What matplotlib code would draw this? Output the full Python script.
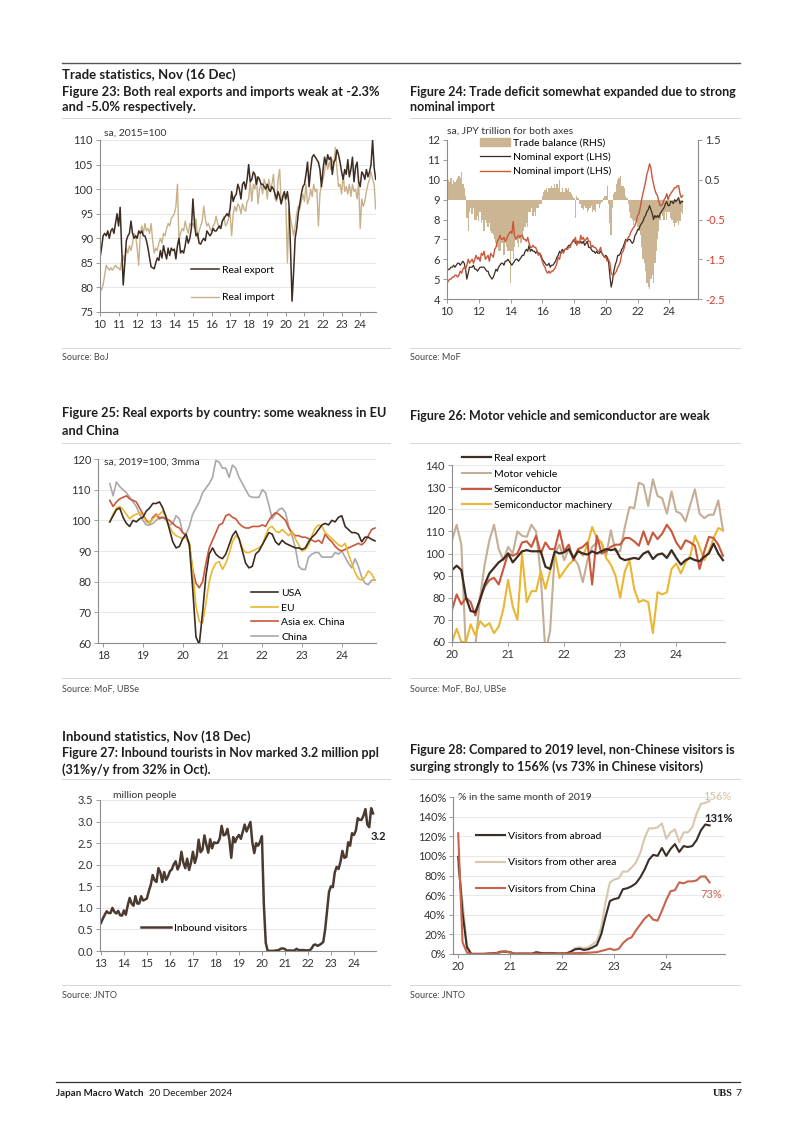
# -*- coding: utf-8 -*-
import numpy as np
import matplotlib.pyplot as plt
from matplotlib.lines import Line2D
from matplotlib.patches import Patch

plt.rcParams['font.family'] = ['Lato', 'DejaVu Sans']

# Figure 23: real exports / imports, sa 2015=100, Jan 2010 - Nov 2024
real_export = [
    86, 88, 90.5, 91, 90.5, 91.5, 90, 91.5, 92, 91, 93, 95,
    92.5, 96.3, 88, 80.5, 85, 89.5, 90.5, 91, 93.5, 91, 90, 90.5,
    90, 91.5, 91, 91.5, 90.5, 90.5, 89.5, 88, 86, 84.2, 84, 83.8,
    85, 86, 85.5, 87.5, 86, 88.5, 87, 85.8, 88, 86.5, 88, 87.5,
    87.8, 85.8, 88.5, 90, 87, 87.5, 87, 88.5, 90.5, 89, 90, 92,
    98, 93, 90.5, 91, 89, 88.8, 89.5, 90, 89.5, 91.5, 91, 90.5,
    91, 92, 91.5, 91.5, 92, 92.5, 92, 93.5, 94, 94.5, 95, 94.5,
    96, 99.5, 97.5, 98.5, 99, 101, 100, 98, 101, 101.5, 100, 102,
    105, 101.5, 102, 103.5, 103, 101, 102.5, 102, 101, 101, 100.5, 100,
    101, 100, 99.5, 100.5, 100, 99, 98, 99.5, 98.5, 97, 98.5, 99.5,
    98, 99.5, 97, 88, 77.2, 83, 90, 92, 95, 97, 99, 100.5,
    101, 103, 105.5, 100.5, 104, 106.5, 107, 106.5, 106, 105.5, 104, 100.5,
    104, 106.5, 105, 107, 106, 106.5, 103, 105.5, 106, 108, 107, 105.5,
    103.5, 102, 104, 103, 106, 102.5, 104, 106.5, 101.5, 104.5, 105.5, 101.5,
    100.5, 103.5, 103, 102, 104, 102.5, 103.5, 105, 110, 104.4, 102,
]
real_import = [
    80, 79.5, 80.5, 82.5, 84.5, 84, 83.5, 84, 83.5, 84, 84.5, 84,
    84, 83.5, 85.5, 86.5, 85, 88, 87, 88.5, 87.5, 89, 91, 90.5,
    88, 84.5, 91, 92.5, 91, 93, 91.5, 92, 91, 93, 89.5, 87,
    88, 87.5, 89, 90, 89, 91, 90.5, 92, 93, 92.5, 94, 94.5,
    95, 96.5, 101, 89.5, 91, 92, 91.5, 93.5, 92, 91, 93, 92.5,
    93, 92, 94, 90, 91.5, 92.5, 93.5, 96.5, 94, 92.5, 93, 92,
    91.5, 92.5, 93, 94.5, 93, 92, 92.5, 93.5, 94.5, 92.5, 93, 94,
    95, 90.5, 95, 96.5, 95.5, 97, 96.5, 95, 97, 96, 95.5, 97.5,
    98, 101.5, 97.5, 101, 100, 102.5, 97, 100, 101, 99, 102, 101,
    98, 102, 100, 101, 103, 98, 97.5, 102, 104, 97, 98, 99,
    97, 85, 96, 94, 92.5, 90.5, 92.5, 95, 96.5, 96, 97.5, 99,
    97.5, 101, 97, 98, 100, 98.5, 101, 99.5, 100, 92.5, 99, 101,
    102, 103.5, 106, 104, 105.5, 104, 106, 105, 108.5, 104, 100.5, 101,
    99, 103, 99.5, 100.5, 99, 101, 98.5, 101, 99.5, 100, 98, 101.5,
    92, 98, 96.5, 97.5, 99.5, 101, 102, 103.5, 102, 101, 96,
]
years23 = list(range(10, 25))

# Figure 24: nominal trade, JPY trillion, Jan 2010 - Nov 2024
nominal_export = [
    5.4, 5.5, 5.5, 5.6, 5.6, 5.7, 5.6, 5.7, 5.8, 5.8, 5.7, 5.8,
    5.9, 5.8, 5.5, 5.0, 5.3, 5.6, 5.6, 5.6, 5.7, 5.5, 5.5, 5.4,
    5.5, 5.6, 5.6, 5.6, 5.6, 5.5, 5.4, 5.4, 5.2, 5.1, 5.0, 5.1,
    5.3, 5.5, 5.4, 5.6, 5.7, 5.8, 5.8, 5.7, 5.9, 5.9, 6.0, 5.9,
    5.8, 5.7, 5.8, 5.9, 6.0, 6.0, 5.9, 6.0, 6.1, 6.2, 6.2, 6.4,
    6.5, 6.4, 6.7, 6.4, 6.5, 6.4, 6.4, 6.3, 6.4, 6.3, 6.3, 6.2,
    6.0, 5.9, 5.8, 5.7, 5.7, 5.8, 5.6, 5.7, 5.7, 5.8, 5.9, 6.1,
    6.2, 6.4, 6.3, 6.5, 6.4, 6.5, 6.5, 6.6, 6.7, 6.7, 6.8, 6.9,
    7.0, 6.8, 6.9, 6.9, 6.8, 6.9, 6.8, 6.9, 6.7, 6.8, 6.9, 6.6,
    6.6, 6.5, 6.4, 6.4, 6.3, 6.4, 6.3, 6.3, 6.4, 6.3, 6.2, 6.1,
    6.2, 6.1, 5.9, 5.2, 4.6, 4.9, 5.4, 5.7, 5.9, 6.2, 6.2, 6.3,
    6.5, 6.6, 6.8, 7.0, 6.9, 7.0, 7.0, 6.9, 6.8, 6.9, 7.2, 7.3,
    7.5, 7.5, 7.7, 7.8, 7.9, 8.1, 8.2, 8.4, 8.5, 8.7, 8.5, 8.3,
    8.0, 8.2, 8.1, 8.2, 8.1, 8.3, 8.4, 8.5, 8.6, 8.8, 8.9, 8.7,
    8.7, 8.9, 8.9, 8.8, 9.0, 8.9, 9.0, 9.1, 8.8, 8.9, 8.9,
]
nominal_import = [
    4.8, 4.9, 5.0, 5.0, 5.1, 5.1, 5.2, 5.2, 5.1, 5.2, 5.4, 5.3,
    5.5, 5.6, 5.5, 5.7, 6.0, 5.8, 5.9, 6.0, 5.8, 6.0, 6.2, 6.0,
    6.1, 5.9, 6.3, 6.2, 6.4, 6.0, 6.1, 6.2, 5.9, 6.3, 6.2, 6.1,
    6.5, 6.6, 6.9, 7.0, 7.2, 7.0, 7.0, 7.1, 6.9, 7.0, 7.2, 7.3,
    7.4, 7.3, 7.9, 7.2, 7.0, 7.1, 7.2, 7.1, 7.2, 7.2, 7.0, 7.0,
    6.9, 7.1, 6.8, 6.6, 6.6, 6.7, 6.6, 6.6, 6.4, 6.2, 6.3, 6.1,
    5.9, 5.7, 5.6, 5.4, 5.3, 5.4, 5.3, 5.4, 5.4, 5.5, 5.6, 5.8,
    6.1, 6.0, 6.3, 6.4, 6.3, 6.5, 6.5, 6.5, 6.6, 6.6, 6.8, 6.9,
    6.9, 7.1, 6.7, 6.9, 6.8, 7.2, 7.0, 7.1, 6.9, 7.0, 7.1, 6.9,
    6.9, 6.6, 6.7, 6.6, 6.6, 6.5, 6.4, 6.4, 6.6, 6.3, 6.2, 6.1,
    6.1, 5.9, 6.0, 5.8, 5.3, 5.2, 5.2, 5.3, 5.4, 5.6, 5.7, 5.9,
    6.3, 6.4, 6.6, 6.9, 7.0, 7.1, 7.2, 7.4, 7.5, 7.6, 7.7, 7.9,
    8.2, 8.3, 8.6, 9.0, 9.3, 9.6, 9.9, 10.3, 10.5, 10.8, 10.6, 10.1,
    9.8, 9.5, 9.3, 9.2, 8.9, 8.7, 8.7, 8.8, 9.0, 9.1, 9.3, 9.0,
    9.2, 9.3, 9.4, 9.5, 9.6, 9.6, 9.7, 9.7, 9.3, 9.1, 9.2,
]
trade_balance = [
    0.45, 0.5, 0.45, 0.55, 0.4, 0.5, 0.45, 0.5, 0.55, 0.6, 0.55, 0.7,
    0.4, 0.3, 0.1, -0.45, -0.8, -0.3, -0.2, -0.35, -0.2, -0.5, -0.5, -0.4,
    -0.55, -0.3, -0.6, -0.5, -0.8, -0.5, -0.6, -0.7, -0.6, -0.8, -0.85, -0.9,
    -1.0, -1.1, -1.2, -1.3, -1.3, -1.1, -1.1, -1.4, -1.1, -1.2, -1.3, -1.3,
    -2.1, -1.3, -1.5, -1.2, -1.0, -1.1, -1.2, -1.0, -1.1, -1.0, -0.8, -0.7,
    -0.6, -0.7, -0.3, -0.3, -0.2, -0.4, -0.3, -0.4, -0.2, -0.2, -0.1, -0.1,
    0.1, 0.2, 0.25, 0.3, 0.2, 0.3, 0.3, 0.35, 0.3, 0.4, 0.3, 0.4,
    0.3, 0.5, 0.2, 0.3, 0.2, 0.2, 0.3, 0.25, 0.3, 0.2, 0.15, 0.1,
    0.05, -0.45, 0.1, 0.05, -0.1, -0.1, -0.2, -0.25, -0.15, -0.2, -0.3, -0.25,
    -0.2, -0.15, -0.3, -0.25, -0.3, -0.1, -0.1, -0.2, -0.1, -0.05, 0.05, 0.1,
    0.1, 0.35, -0.1, -0.6, -0.9, -0.2, 0.15, 0.2, 0.4, 0.5, 0.55, 0.6,
    0.35, 0.35, 0.3, 0.1, 0.05, -0.1, -0.3, -0.45, -0.5, -0.65, -0.55, -0.6,
    -0.7, -0.8, -0.9, -1.2, -1.5, -1.6, -1.8, -2.1, -2.2, -2.25, -2.0, -1.9,
    -2.1, -1.6, -1.3, -1.0, -0.8, -0.5, -0.35, -0.4, -0.5, -0.3, -0.5, -0.3,
    -0.3, -0.45, -0.5, -0.6, -0.7, -0.6, -0.55, -0.65, -0.55, -0.3, -0.35,
]
years24 = list(range(10, 25, 2))
rhs_ticks = [1.5, 0.5, -0.5, -1.5, -2.5]

# Figure 25: real exports by destination, sa 2019=100, 3mma, Mar 2018 - Nov 2024
exp_usa = [
    99.5, 101.5, 103.5, 104, 101, 99, 98, 100, 99.5, 100.5,
    101, 103, 104, 105.5, 105.5, 106, 104, 101, 97, 93, 91, 91.5,
    94, 95.5, 92, 78, 62, 59.5, 70, 82, 89, 91, 89, 88,
    87.5, 89, 92, 95, 96.5, 94, 90, 86, 84.5, 85, 89, 90,
    92, 94, 96, 95.5, 93, 92, 93.5, 92.5, 92, 91.5, 91, 91,
    90.5, 91, 93, 94.5, 95.5, 97, 98.5, 99, 98.5, 100, 99.5, 101,
    101.5, 98, 97, 96, 96, 95.5, 93, 94.5, 94.5, 93.8, 93.3,
]
exp_eu = [
    99.5, 102, 104, 104.5, 103.5, 102, 100.5, 101.5, 102, 102.5,
    101.5, 99.5, 99, 100.5, 101.5, 102, 103, 101, 98, 96, 95, 94.5,
    94, 94.5, 93, 84, 72, 67, 66.5, 73, 80, 84, 86, 86.5,
    84, 86, 89, 93, 95, 94, 91, 89.5, 89.5, 90, 90.5, 91,
    92, 95, 97.5, 98, 96.5, 96, 97, 96, 95, 96.5, 94, 92,
    90, 90.5, 92, 95, 97.5, 98.5, 98, 96, 95, 94, 93, 92,
    91.5, 92.5, 89, 86, 83, 81, 80.5, 81.5, 83.5, 82.5, 80.5,
]
exp_asia = [
    106.5, 104.5, 106, 107, 107.5, 108, 107, 106.5, 106, 104,
    102, 100, 99, 101, 102, 100.5, 101, 100.5, 100, 99, 98, 97.5,
    96, 95, 92, 84, 79.5, 78, 80, 86, 91, 93.5, 96, 98.5,
    99, 101.5, 102, 101, 100.5, 99, 98, 97.5, 97.5, 98, 98, 98,
    98.5, 98, 100, 101.5, 102.5, 102, 101, 100, 97.5, 96, 95, 95,
    94.5, 94.5, 94, 93.5, 93, 93.5, 92.5, 95.5, 94, 93, 91.5, 90.5,
    90, 90.5, 91, 91.5, 92, 92.5, 92, 93, 95, 97, 97.5,
]
exp_china = [
    112, 108, 112.5, 111, 110, 109, 107.5, 106, 104.5, 102,
    100, 98.5, 98.5, 99, 100, 101, 101, 100, 98.5, 99, 101.5, 100.5,
    96, 95.5, 98, 102, 104, 106, 109, 110.5, 112, 114, 119.5, 119,
    117, 117, 114, 118, 117, 114, 112, 110, 108, 107.5, 107.5, 107.5,
    110, 109, 105, 100.5, 102, 103.5, 104, 102.5, 98, 95, 91, 85,
    84, 84, 88, 89, 89.5, 89.5, 88, 88, 88, 88, 89.5, 89,
    90, 88, 86, 84.5, 87.5, 85, 81.5, 79.5, 79, 80.5, 80.5,
]
years25 = list(range(18, 25))

# Figure 26: exports by product, Jan 2020 - Nov 2024
f26_real = [
    92.5, 94.5, 92.5, 80, 74, 73.5, 79, 86, 91, 93.5, 96, 97.5,
    100, 96, 98.5, 101, 101.5, 101, 101, 101, 94, 93, 101, 100,
    100.5, 102, 98, 101, 100, 99.5, 101, 100, 101, 102, 101.5, 102,
    98, 97, 97.5, 98, 97.5, 100, 101, 97.5, 99.5, 100, 98, 101.5,
    98, 95, 97, 98, 97, 96.5, 98.5, 100, 104.5, 100, 97,
]
f26_motor = [
    106, 113, 104, 55, 45, 58, 80, 95, 106, 113, 102, 97,
    103, 100, 110, 108, 107.5, 113, 110, 90, 55, 65, 100, 104,
    97, 102, 98, 95, 87, 97, 103, 105, 105, 99, 110.5, 101,
    101, 112, 121, 120.5, 132, 131, 121.5, 133.5, 126, 125, 118, 128,
    119, 118, 114.5, 122, 129, 118, 116, 117.5, 117.5, 124, 110.5,
]
f26_semi = [
    74.5, 81.5, 77, 80, 78, 72, 80, 85, 88, 89, 86, 93,
    100, 99, 100, 105, 105.5, 103, 108, 100, 105, 102, 102, 110.5,
    101, 104, 97, 102, 103, 105, 86, 108, 100, 101, 103, 104,
    104, 107, 107, 105.5, 103.5, 110, 104, 109.5, 106.5, 109, 113, 110,
    105, 102, 106, 105, 103.5, 93, 101, 107.5, 107, 104, 99,
]
f26_semimach = [
    60, 66, 60, 60, 68, 63, 69.5, 67, 68.5, 64, 67, 75,
    88, 76, 70, 100, 78, 83, 83, 92, 84, 92, 100, 89,
    92, 95, 97, 102, 99, 104, 112, 107, 105, 98, 95, 90,
    80, 92, 97, 84, 78, 79, 78, 64, 82.5, 81.5, 82.5, 93,
    95.5, 91, 96, 99, 108, 103, 97, 101, 107, 111.5, 110.5,
]
years26 = list(range(20, 25))

# Figure 27: inbound visitors, million people, Jan 2013 - Nov 2024
inbound = [
    0.65, 0.75, 0.84, 0.92, 0.88, 0.88, 1.0, 0.91, 0.87, 0.93, 0.83, 0.82,
    0.94, 0.84, 1.06, 1.23, 1.10, 1.05, 1.27, 1.10, 1.10, 1.27, 1.17, 1.19,
    1.22, 1.39, 1.53, 1.76, 1.64, 1.60, 1.92, 1.82, 1.60, 1.83, 1.65, 1.73,
    1.85, 1.89, 2.01, 2.08, 1.89, 1.99, 2.30, 2.05, 1.92, 2.14, 1.88, 2.05,
    2.30, 2.04, 2.20, 2.58, 2.29, 2.35, 2.68, 2.47, 2.28, 2.59, 2.38, 2.52,
    2.50, 2.51, 2.61, 2.90, 2.68, 2.70, 2.83, 2.58, 2.16, 2.64, 2.52, 2.63,
    2.69, 2.60, 2.76, 2.93, 2.77, 2.88, 2.99, 2.52, 2.27, 2.50, 2.44, 2.53,
    2.66, 1.09, 0.19, 0.003, 0.002, 0.003, 0.004, 0.009, 0.014, 0.028, 0.057, 0.059,
    0.046, 0.007, 0.012, 0.011, 0.010, 0.009, 0.051, 0.025, 0.018, 0.022, 0.021, 0.012,
    0.017, 0.017, 0.066, 0.14, 0.15, 0.12, 0.14, 0.17, 0.21, 0.50, 0.93, 1.37,
    1.50, 1.48, 1.82, 1.95, 1.90, 2.07, 2.32, 2.16, 2.18, 2.52, 2.44, 2.73,
    2.69, 2.79, 3.08, 3.04, 3.04, 3.14, 3.29, 2.93, 2.87, 3.31, 3.19,
]
years27 = list(range(13, 25))

# Figure 28: visitors as % of the same month of 2019, Jan 2020 - Nov 2024
vis_abroad = [
    99, 42, 7, 0.1, 0.1, 0.1, 0.1, 0.4, 0.6, 1.1, 2.3, 2.3,
    1.7, 0.3, 0.4, 0.4, 0.4, 0.3, 1.7, 1.0, 0.8, 0.9, 0.9, 0.5,
    0.6, 0.6, 2.4, 4.8, 5.3, 4.2, 4.8, 6.7, 9.2, 20, 38, 54,
    56, 57, 66, 67, 69, 72, 78, 86, 96, 101, 100, 108,
    100, 107, 112, 104, 110, 109, 110, 116, 126, 132, 131,
]
vis_other = [
    90, 53, 9, 0.1, 0.1, 0.1, 0.2, 0.6, 0.9, 1.4, 3.0, 3.0,
    2.0, 0.4, 0.5, 0.5, 0.5, 0.4, 2.4, 1.3, 1.0, 1.1, 1.1, 0.6,
    0.7, 0.7, 3.0, 6.2, 7.0, 5.5, 6.8, 10, 13, 27, 53, 73,
    76, 77, 84, 84, 88, 93, 103, 118, 128, 128, 129, 133,
    117.5, 124, 127, 114, 124, 124, 129, 143, 153, 154, 156,
]
vis_china = [
    123, 12, 1.5, 0.1, 0.1, 0.1, 0.1, 0.2, 0.3, 0.9, 2.0, 2.5,
    1.5, 0.2, 0.3, 0.3, 0.3, 0.2, 0.5, 0.3, 0.4, 0.5, 0.5, 0.4,
    0.5, 0.4, 0.7, 0.9, 1.0, 1.2, 1.3, 1.6, 1.9, 3.1, 4.2, 5.5,
    4.1, 5.0, 11, 15, 17, 24, 30, 36, 40, 35, 34, 44,
    55, 64, 65, 73, 72, 74, 74, 75, 79, 79, 73,
]
years28 = list(range(20, 25))

# colours
dark = '#3d2c22'
tan = '#c8b08a'
red = '#c9573c'
yellow = '#e9b731'
grey = '#a9a9a9'
axis_grey = '#8c8c8c'
text_col = '#1e1e1e'

W, H = 802, 1134
fig = plt.figure(figsize=(W / 100, H / 100), dpi=100)


def axes_px(l, t, r, b):
    return fig.add_axes([l / W, 1 - b / H, (r - l) / W, (b - t) / H])


def text_px(x, y, s, **kw):
    kw.setdefault('color', text_col)
    return fig.text(x / W, 1 - y / H, s, va='center', **kw)


def hline_px(x0, x1, y, color='#d6d6d6', lw=0.7):
    fig.add_artist(Line2D([x0 / W, x1 / W], [1 - y / H, 1 - y / H],
                          color=color, lw=lw, transform=fig.transFigure))


def style(ax, xlim, ylim, xticks, yticks, ylabels=None, grid=True):
    ax.set_xlim(xlim)
    ax.set_ylim(ylim)
    ax.set_xticks(xticks)
    ax.set_xticklabels([str(v) for v in xticks])
    ax.set_yticks(yticks)
    if ylabels is not None:
        ax.set_yticklabels(ylabels)
    for s in ['top', 'right']:
        ax.spines[s].set_visible(False)
    for s in ['left', 'bottom']:
        ax.spines[s].set_color(axis_grey)
        ax.spines[s].set_linewidth(0.8)
    if grid:
        ax.grid(axis='y', color='#e4e4e4', lw=0.6)
    ax.set_axisbelow(True)
    ax.tick_params(labelsize=8, labelcolor='#333333', color=axis_grey,
                   length=3, width=0.6, pad=2)


def legend(ax, handles, labels, anchor, spacing, loc='upper left', hl=2.7):
    ax.legend(handles, labels, loc=loc, bbox_to_anchor=anchor, frameon=False,
              fontsize=7.5, labelspacing=spacing, handlelength=hl,
              handletextpad=0.3, borderpad=0, borderaxespad=0)


# ---------------- Figure 23
ax = axes_px(100, 140, 376, 312)
t = 10 + np.arange(len(real_export)) / 12
l_imp, = ax.plot(t, real_import, color=tan, lw=1.0)
l_exp, = ax.plot(t, real_export, color=dark, lw=1.1)
style(ax, (10, 24.85), (75, 110), years23, range(75, 111, 5))
legend(ax, [l_exp, l_imp], ['Real export', 'Real import'], (0.33, 0.27), 1.75)
ax.text(0.015, 1.04, 'sa, 2015=100', transform=ax.transAxes, fontsize=7.5,
        va='center', color='#333333')

# ---------------- Figure 24
ax = axes_px(447, 140, 698, 299)
ax2 = ax.twinx()
t = 10 + np.arange(len(nominal_export)) / 12
ax2.bar(t, trade_balance, width=1 / 12, color='#cbb592', linewidth=0)
ax2.set_ylim(-2.5, 1.5)
ax2.set_yticks(rhs_ticks)
ax2.set_yticklabels([f'{v:.1f}' for v in rhs_ticks])
for lab, v in zip(ax2.get_yticklabels(), rhs_ticks):
    lab.set_color('#333333' if v > 0 else '#d23c28')
for s in ['top', 'left', 'bottom']:
    ax2.spines[s].set_visible(False)
ax2.spines['right'].set_color(axis_grey)
ax2.spines['right'].set_linewidth(0.8)
ax2.tick_params(labelsize=8, color=axis_grey, length=3, width=0.6, pad=2)
l_nx, = ax.plot(t, nominal_export, color=dark, lw=0.9)
l_nm, = ax.plot(t, nominal_import, color=red, lw=1.0)
ax.set_zorder(ax2.get_zorder() + 1)
ax.patch.set_visible(False)
style(ax, (10, 25.8), (4, 12), years24, range(4, 13), grid=False)
legend(ax, [Patch(color='#cbb592'), l_nx, l_nm],
       ['Trade balance (RHS)', 'Nominal export (LHS)', 'Nominal import (LHS)'],
       (0.13, 1.01), 0.45, hl=2.9)
ax.text(0.0, 1.058, 'sa, JPY trillion for both axes', transform=ax.transAxes,
        fontsize=7.5, va='center', color='#333333')

# ---------------- Figure 25
ax = axes_px(98, 459, 376, 643)
t = 18 + (2 + np.arange(len(exp_usa))) / 12
l_cn, = ax.plot(t, exp_china, color=grey, lw=1.2)
l_as, = ax.plot(t, exp_asia, color=red, lw=1.2)
l_eu, = ax.plot(t, exp_eu, color=yellow, lw=1.2)
l_us, = ax.plot(t, exp_usa, color=dark, lw=1.2)
style(ax, (17.87, 24.86), (60, 120), years25, range(60, 121, 10))
legend(ax, [l_us, l_eu, l_as, l_cn], ['USA', 'EU', 'Asia ex. China', 'China'],
       (0.55, 0.295), 0.5, hl=2.6)
ax.text(0.02, 0.985, 'sa, 2019=100, 3mma', transform=ax.transAxes, fontsize=7.5,
        va='center', color='#333333')

# ---------------- Figure 26
ax = axes_px(452, 465, 725, 642)
t = 20 + np.arange(len(f26_real)) / 12
l_mv, = ax.plot(t, f26_motor, color='#c4ae95', lw=1.5)
l_sm, = ax.plot(t, f26_semimach, color=yellow, lw=1.5)
l_sc, = ax.plot(t, f26_semi, color=red, lw=1.5)
l_re, = ax.plot(t, f26_real, color=dark, lw=1.6)
style(ax, (20, 24.87), (60, 140), years26, range(60, 141, 10))
legend(ax, [l_re, l_mv, l_sc, l_sm],
       ['Real export', 'Motor vehicle', 'Semiconductor', 'Semiconductor machinery'],
       (0.035, 1.065), 0.62, hl=2.8)

# ---------------- Figure 27
ax = axes_px(100, 800, 376, 951)
t = 13 + np.arange(len(inbound)) / 12
l_in, = ax.plot(t, inbound, color='#4a3a30', lw=1.8)
style(ax, (12.96, 24.96), (0, 3.5), years27, np.arange(0, 3.51, 0.5),
      ylabels=[f'{v:.1f}' for v in np.arange(0, 3.51, 0.5)])
legend(ax, [l_in], ['Inbound visitors'], (0.15, 0.15), 0.3, loc='center left', hl=2.8)
ax.text(0.047, 1.03, 'million people', transform=ax.transAxes, fontsize=7.5,
        va='center', color='#333333')
text_px(371, 836, '3.2', fontsize=8, fontweight='bold')

# ---------------- Figure 28
ax = axes_px(453, 797, 725, 954)
t = 20 + np.arange(len(vis_abroad)) / 12
l_ot, = ax.plot(t, vis_other, color='#d6c7ae', lw=1.5)
l_ab, = ax.plot(t, vis_abroad, color='#3a2e28', lw=1.5)
l_ch, = ax.plot(t, vis_china, color='#c8644a', lw=1.5)
style(ax, (19.9, 25.13), (0, 160), years28, range(0, 161, 20),
      ylabels=[f'{v}%' for v in range(0, 161, 20)])
legend(ax, [l_ab, l_ot, l_ch],
       ['Visitors from abroad', 'Visitors from other area', 'Visitors from China'],
       (0.085, 0.78), 1.65, hl=2.8)
ax.text(0.02, 1.0, '% in the same month of 2019', transform=ax.transAxes,
        fontsize=7.5, va='center', color='#333333')
text_px(703, 797, '156%', fontsize=8, color='#d4c09e')
text_px(704, 819, '131%', fontsize=8, fontweight='bold')
text_px(700, 895, '73%', fontsize=8, color='#c8644a')

# ---------------- page text
hline_px(62, 740, 63, color='#555555', lw=1.0)
text_px(62, 75, 'Trade statistics, Nov (16 Dec)', fontsize=9.5, fontweight='bold')
text_px(62, 92, 'Figure 23: Both real exports and imports weak at -2.3%', fontsize=9.3, fontweight='bold')
text_px(62, 107, 'and -5.0% respectively.', fontsize=9.3, fontweight='bold')
text_px(410, 92, 'Figure 24: Trade deficit somewhat expanded due to strong', fontsize=9, fontweight='bold')
text_px(410, 107, 'nominal import', fontsize=9, fontweight='bold')
for y in [118, 348, 443, 678, 779, 985]:
    hline_px(62, 390, y)
    hline_px(410, 740, y)
text_px(62, 358, 'Source: BoJ', fontsize=6.5, color='#444444')
text_px(410, 358, 'Source: MoF', fontsize=6.5, color='#444444')

text_px(62, 413, 'Figure 25: Real exports by country: some weakness in EU', fontsize=9.2, fontweight='bold')
text_px(62, 431, 'and China', fontsize=9.2, fontweight='bold')
text_px(410, 416, 'Figure 26: Motor vehicle and semiconductor are weak', fontsize=9, fontweight='bold')
text_px(62, 689, 'Source: MoF, UBSe', fontsize=6.5, color='#444444')
text_px(410, 689, 'Source: MoF, BoJ, UBSe', fontsize=6.5, color='#444444')

text_px(62, 737, 'Inbound statistics, Nov (18 Dec)', fontsize=9.5, fontweight='bold')
text_px(62, 753, 'Figure 27: Inbound tourists in Nov marked 3.2 million ppl', fontsize=9, fontweight='bold')
text_px(62, 770, '(31%y/y from 32% in Oct).', fontsize=9, fontweight='bold')
text_px(410, 750, 'Figure 28: Compared to 2019 level, non-Chinese visitors is', fontsize=9, fontweight='bold')
text_px(410, 767, 'surging strongly to 156% (vs 73% in Chinese visitors)', fontsize=9, fontweight='bold')
text_px(62, 995, 'Source: JNTO', fontsize=6.5, color='#444444')
text_px(410, 995, 'Source: JNTO', fontsize=6.5, color='#444444')

# footer
hline_px(56, 740, 1082, color='#333333', lw=0.9)
t_pub = text_px(56, 1093, 'Japan Macro Watch', fontsize=7, fontweight='bold')
fig.add_artist(plt.Annotation('20 December 2024', xy=(1, 0.5), xycoords=t_pub,
                              xytext=(4, 0), textcoords='offset points',
                              va='center', fontsize=7, color=text_col))
text_px(733, 1093, 'UBS', fontsize=7.5, fontweight='bold', ha='right',
        family=['Liberation Serif', 'DejaVu Serif'])
text_px(741, 1093, '7', fontsize=7.5, ha='right')

fig.savefig('out.png', dpi=100, facecolor='white')
